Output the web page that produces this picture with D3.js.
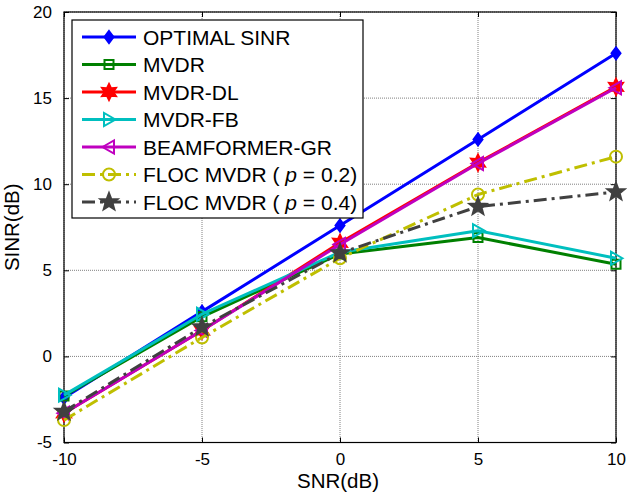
<!DOCTYPE html>
<html>
<head>
<meta charset="utf-8">
<script src="https://cdn.jsdelivr.net/npm/d3@7"></script>
<style>
  html, body { margin: 0; padding: 0; background: #fff; }
  svg { display: block; font-family: "Liberation Sans", Arial, sans-serif; }
</style>
</head>
<body>
<svg id="chart" width="627" height="496"></svg>
<script>
// ---- Data ----
const snr = [-10, -5, 0, 5, 10];
const optimalSINR = [-2.4, 2.6, 7.6, 12.6, 17.6];
const mvdr = [-2.3, 2.3, 5.95, 6.9, 5.35];
const mvdrDL = [-3.3, 1.5, 6.6, 11.25, 15.65];
const mvdrFB = [-2.25, 2.45, 6.05, 7.3, 5.7];
const beamformerGR = [-3.3, 1.5, 6.5, 11.2, 15.6];
const floc02 = [-3.7, 1.1, 5.7, 9.4, 11.6];
const floc04 = [-3.2, 1.7, 6.0, 8.7, 9.55];
const xTicks = [-10, -5, 0, 5, 10];
const yTicks = [-5, 0, 5, 10, 15, 20];

const series = [
  { name: "OPTIMAL SINR", values: optimalSINR, color: "#0000ff", marker: "diamond", dash: null, fill: true },
  { name: "MVDR", values: mvdr, color: "#008000", marker: "square", dash: null, fill: false },
  { name: "MVDR-DL", values: mvdrDL, color: "#ff0000", marker: "hexagram", dash: null, fill: true },
  { name: "MVDR-FB", values: mvdrFB, color: "#00bfbf", marker: "triRight", dash: null, fill: false },
  { name: "BEAMFORMER-GR", values: beamformerGR, color: "#bf00bf", marker: "triLeft", dash: null, fill: false },
  { name: "FLOC MVDR ( p = 0.2)", p: "0.2", values: floc02, color: "#bfbf00", marker: "circle", dash: "13,5,3,5", fill: false },
  { name: "FLOC MVDR ( p = 0.4)", p: "0.4", values: floc04, color: "#404040", marker: "pentagram", dash: "13,5,3,5", fill: true }
];

const svg = d3.select("#chart");
const L = 64, R = 616, T = 12, B = 442.5;
const x = d3.scaleLinear().domain([-10, 10]).range([L, R]);
const y = d3.scaleLinear().domain([-5, 20]).range([B, T]);
const fmt = d => String(d);

// grid
const grid = svg.append("g");
grid.selectAll(".gx").data(xTicks).enter().append("line")
  .attr("x1", d => x(d)).attr("x2", d => x(d)).attr("y1", T).attr("y2", B)
  .attr("stroke", "#808080").attr("stroke-width", 1).attr("stroke-dasharray", "1,1");
grid.selectAll(".gy").data(yTicks).enter().append("line")
  .attr("x1", L).attr("x2", R).attr("y1", d => y(d)).attr("y2", d => y(d))
  .attr("stroke", "#808080").attr("stroke-width", 1).attr("stroke-dasharray", "1,1");

// axes (ticks inward)
const xAxisB = d3.axisBottom(x).tickValues(xTicks).tickSizeInner(-5).tickSizeOuter(0).tickPadding(10).tickFormat(fmt);
const xAxisT = d3.axisTop(x).tickValues(xTicks).tickSizeInner(-5).tickSizeOuter(0).tickFormat("");
const yAxisL = d3.axisLeft(y).tickValues(yTicks).tickSizeInner(-5).tickSizeOuter(0).tickPadding(12).tickFormat(fmt);
const yAxisR = d3.axisRight(y).tickValues(yTicks).tickSizeInner(-5).tickSizeOuter(0).tickFormat("");

function styleAxis(g) {
  g.select(".domain").remove();
  g.selectAll("line").attr("stroke", "#000");
  g.selectAll("text").attr("font-size", 17).attr("fill", "#000").attr("font-family", "Liberation Sans, Arial, sans-serif");
}
svg.append("g").attr("transform", `translate(0,${B})`).call(xAxisB).call(styleAxis);
svg.append("g").attr("transform", `translate(0,${T})`).call(xAxisT).call(styleAxis);
svg.append("g").attr("transform", `translate(${L},0)`).call(yAxisL).call(styleAxis);
svg.append("g").attr("transform", `translate(${R},0)`).call(yAxisR).call(styleAxis);

svg.append("rect").attr("x", L).attr("y", T).attr("width", R - L).attr("height", B - T)
  .attr("fill", "none").attr("stroke", "#000").attr("stroke-width", 1.2);

// marker path generators
function starPath(n, ro, ri) {
  const pts = [];
  for (let i = 0; i < 2 * n; i++) {
    const r = i % 2 === 0 ? ro : ri;
    const a = -Math.PI / 2 + i * Math.PI / n;
    pts.push([r * Math.cos(a), r * Math.sin(a)]);
  }
  return "M" + pts.map(p => p[0].toFixed(2) + "," + p[1].toFixed(2)).join("L") + "Z";
}
function markerPath(type) {
  switch (type) {
    case "diamond": return "M0,-6L4.5,0L0,6L-4.5,0Z";
    case "square": return "M-4.5,-4.5L4.5,-4.5L4.5,4.5L-4.5,4.5Z";
    case "hexagram": return starPath(6, 8, 4.2);
    case "triRight": return "M6.5,0L-5,-6.5L-5,6.5Z";
    case "triLeft": return "M-6.5,0L5,-6.5L5,6.5Z";
    case "circle": return d3.symbol().type(d3.symbolCircle).size(Math.PI * 36)();
    case "pentagram": return starPath(5, 9, 3.8);
  }
}

const line = d3.line().x((d, i) => x(snr[i])).y(d => y(d));

series.forEach(s => {
  const g = svg.append("g");
  g.append("path").datum(s.values).attr("d", line)
    .attr("fill", "none").attr("stroke", s.color).attr("stroke-width", 3)
    .attr("stroke-dasharray", s.dash).attr("stroke-linejoin", "round");
  g.selectAll("path.m").data(s.values).enter().append("path").attr("class", "m")
    .attr("d", markerPath(s.marker))
    .attr("transform", (d, i) => `translate(${x(snr[i])},${y(d)})`)
    .attr("fill", s.fill ? s.color : "none").attr("stroke", s.color).attr("stroke-width", 2);
});

// axis labels
svg.append("text").attr("x", (L + R) / 2 - 2).attr("y", 488).attr("text-anchor", "middle")
  .attr("font-size", 20.5).text("SNR(dB)");
svg.append("text").attr("transform", `translate(19,${(T + B) / 2}) rotate(-90)`).attr("text-anchor", "middle")
  .attr("font-size", 20.5).text("SINR(dB)");

// legend
const lg = svg.append("g");
lg.append("rect").attr("x", 72).attr("y", 20).attr("width", 291).attr("height", 198)
  .attr("fill", "#fff").attr("stroke", "#000").attr("stroke-width", 1.2);
series.forEach((s, i) => {
  const yy = 37 + i * 27.5;
  lg.append("line").attr("x1", 82).attr("x2", 136).attr("y1", yy).attr("y2", yy)
    .attr("stroke", s.color).attr("stroke-width", 3).attr("stroke-dasharray", s.dash);
  lg.append("path").attr("d", markerPath(s.marker)).attr("transform", `translate(109,${yy})`)
    .attr("fill", s.fill ? s.color : "none").attr("stroke", s.color).attr("stroke-width", 2);
  const t = lg.append("text").attr("x", 143).attr("y", yy + 7.5).attr("font-size", 21).attr("fill", "#000");
  if (s.p) {
    t.append("tspan").text("FLOC MVDR ( ");
    t.append("tspan").attr("font-style", "italic").text("p");
    t.append("tspan").text(" = " + s.p + ")");
  } else {
    t.text(s.name);
  }
});
</script>
</body>
</html>
